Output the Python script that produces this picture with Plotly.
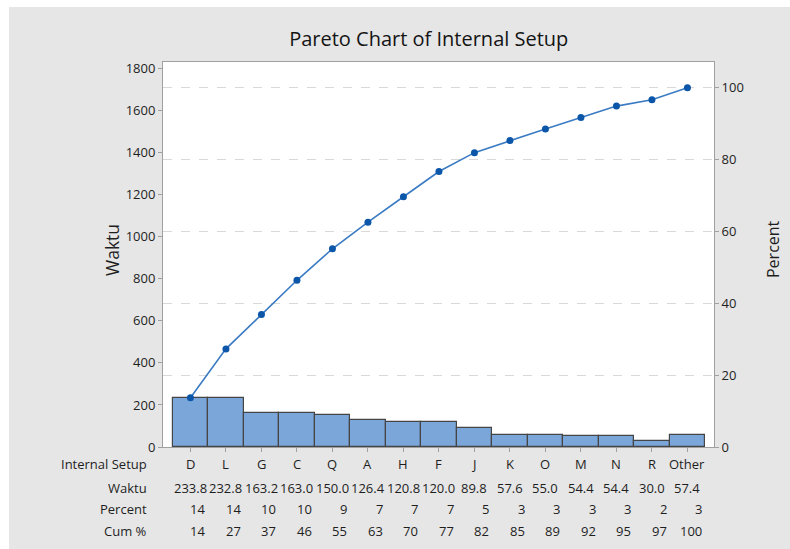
import numpy as np
import plotly.graph_objects as go

categories = ["D", "L", "G", "C", "Q", "A", "H", "F", "J", "K", "O", "M", "N", "R", "Other"]
waktu = [233.8, 232.8, 163.2, 163.0, 150.0, 126.4, 120.8, 120.0, 89.8, 57.6, 55.0, 54.4, 54.4, 30.0, 57.4]
percent = [14, 14, 10, 10, 9, 7, 7, 7, 5, 3, 3, 3, 3, 2, 3]
cum_pct = [14, 27, 37, 46, 55, 63, 70, 77, 82, 85, 89, 92, 95, 97, 100]
left_ticks = [0, 200, 400, 600, 800, 1000, 1200, 1400, 1600, 1800]
right_ticks = [0, 20, 40, 60, 80, 100]
row_labels = ["Internal Setup", "Waktu", "Percent", "Cum %"]

total = float(np.sum(waktu))
cum_line = np.cumsum(waktu) / total * 100.0

W, H = 790, 549
L, R, T, B = 163, 714, 62, 447
pw, ph = R - L, B - T
FONT = "Open Sans"
TXT = "#1e1e1e"
GRAY_BG = "#e6e6e6"

y2_top = 107.16
y_top = total * y2_top / 100.0

fig = go.Figure()
fig.add_trace(go.Bar(
    x=categories, y=waktu, width=1.0,
    marker=dict(color="#7ba6da", line=dict(color="#454545", width=1.2)),
    yaxis="y", showlegend=False, hoverinfo="skip",
))
fig.add_trace(go.Scatter(
    x=categories, y=cum_line, yaxis="y2", mode="lines+markers",
    line=dict(color="#3b7bc3", width=1.6),
    marker=dict(color="#0b56a8", size=7),
    showlegend=False, hoverinfo="skip",
))

def py(pix):
    return (B - pix) / ph

ann = []
row_y = [464, 488, 509, 531]
TS = 13
for lab, yy in zip(row_labels, row_y):
    ann.append(dict(x=(149 - L) / pw, y=py(yy), xref="paper", yref="paper",
                    text=lab, showarrow=False, xanchor="right", yanchor="middle",
                    font=dict(family=FONT, size=TS, color=TXT)))
for i, c in enumerate(categories):
    ann.append(dict(x=c, y=py(row_y[0]), xref="x", yref="paper", text=c,
                    showarrow=False, xanchor="center", yanchor="middle",
                    font=dict(family=FONT, size=TS, color=TXT)))
    ann.append(dict(x=c, y=py(row_y[1]), xref="x", yref="paper", text=f"{waktu[i]:.1f}",
                    showarrow=False, xanchor="center", yanchor="middle",
                    font=dict(family=FONT, size=TS, color=TXT)))
    ann.append(dict(x=c, y=py(row_y[2]), xref="x", yref="paper", text=str(percent[i]),
                    showarrow=False, xanchor="right", yanchor="middle", xshift=17,
                    font=dict(family=FONT, size=TS, color=TXT)))
    ann.append(dict(x=c, y=py(row_y[3]), xref="x", yref="paper", text=str(cum_pct[i]),
                    showarrow=False, xanchor="right", yanchor="middle", xshift=17,
                    font=dict(family=FONT, size=TS, color=TXT)))

ann.append(dict(x=(112 - L) / pw, y=py(250), xref="paper", yref="paper", text="Waktu",
                showarrow=False, textangle=-90, xanchor="center", yanchor="middle",
                font=dict(family=FONT, size=17.5, color=TXT)))
ann.append(dict(x=(773 - L) / pw, y=py(249), xref="paper", yref="paper", text="Percent",
                showarrow=False, textangle=-90, xanchor="center", yanchor="middle",
                font=dict(family=FONT, size=16, color=TXT)))

shapes = [
    dict(type="rect", xref="paper", yref="paper", x0=(0 - L) / pw, x1=(9 - L) / pw,
         y0=py(H), y1=py(0), fillcolor="white", line=dict(width=0), layer="below"),
    dict(type="rect", xref="paper", yref="paper", x0=(0 - L) / pw, x1=(W - L) / pw,
         y0=py(7), y1=py(0), fillcolor="white", line=dict(width=0), layer="below"),
]

fig.update_layout(
    width=W, height=H,
    margin=dict(l=L, r=W - R, t=T, b=H - B, pad=0),
    paper_bgcolor=GRAY_BG, plot_bgcolor="white",
    bargap=0, hovermode=False,
    title=dict(text="Pareto Chart of Internal Setup", x=381 / W, xanchor="center",
               y=1 - 39 / H, yanchor="middle", xref="paper",
               font=dict(family=FONT, size=20, color="#141414")),
    xaxis=dict(type="category", range=[-0.773, 14.748], showticklabels=False,
               ticks="outside", ticklen=4, tickcolor="#a0a0a0",
               showline=True, linecolor="#a0a0a0", mirror=True, showgrid=False,
               zeroline=False),
    yaxis=dict(range=[0, y_top], tickvals=left_ticks, ticks="outside", ticklen=4,
               tickcolor="#a0a0a0", showline=True, linecolor="#a0a0a0",
               showgrid=False, zeroline=False,
               tickfont=dict(family=FONT, size=13, color=TXT)),
    yaxis2=dict(range=[0, y2_top], tickvals=right_ticks, overlaying="y", side="right",
                ticks="outside", ticklen=4, tickcolor="#a0a0a0", showline=True,
                linecolor="#a0a0a0", showgrid=True, gridcolor="#d9d9d9",
                griddash="dash", gridwidth=1, zeroline=False,
                tickfont=dict(family=FONT, size=13, color=TXT)),
    annotations=ann, shapes=shapes,
)

fig.write_html("out.html", config={"displayModeBar": False},
               post_script="document.body.style.margin='0';document.body.style.overflow='hidden';")
